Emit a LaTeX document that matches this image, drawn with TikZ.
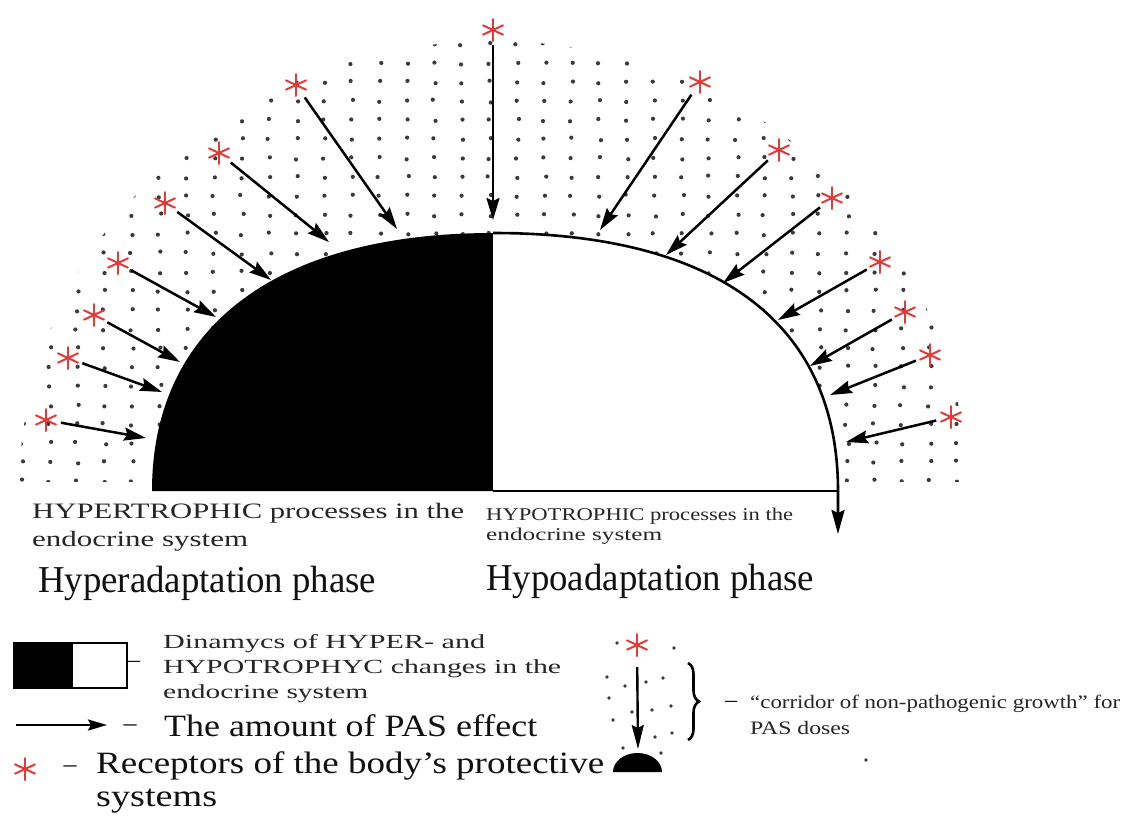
\documentclass[tikz,border=0pt]{standalone}
\usepackage{fontspec}
\setmainfont{Liberation Serif}
\usepackage{graphicx}
\usetikzlibrary{arrows.meta,decorations.pathreplacing}
\definecolor{astred}{HTML}{E23A36}
\definecolor{dotgray}{HTML}{3A3A3A}
\definecolor{txt}{HTML}{111111}
\definecolor{txtsmall}{HTML}{262626}
\newcommand\wtext[3]{{\fontsize{#1}{#1}\selectfont\resizebox{#2pt}{\height}{#3}}}
\tikzset{
  ast/.style={circle, minimum size=26pt, inner sep=0pt,
    path picture={\foreach \ang in {90,25,155}{\draw[astred, line width=2pt, line cap=round] (path picture bounding box.center) ++(\ang:11pt) -- ++(\ang+180:22pt);}}},
  pas/.style={line width=2.5pt, -{Stealth[length=22pt,width=13pt,inset=3pt]}, shorten <=2pt},
  lbl/.style={inner sep=0pt, anchor=base west, text=txt},
  dsh/.style={inner sep=0pt, text=txt},
  dot/.style={fill=dotgray},
}
\begin{document}
\begin{tikzpicture}[x=1pt,y=-1pt]
\useasboundingbox (0,0) rectangle (1124,817);
\fill[white] (0,0) rectangle (1124,817);

% dotted field
\begin{scope}
  \clip (493,491) ellipse [x radius=474, y radius=450];
  \clip (0,0) rectangle (1124,481);
  \pgfmathsetseed{12}
  \foreach \i in {0,...,35}{\foreach \j in {0,...,23}{
    \pgfmathsetmacro\dx{22+27.5*\i+2*rand}
    \pgfmathsetmacro\dy{44+19*\j+1.5*rand}
    \fill[dot] (\dx,\dy) circle[radius=2.1pt];
  }}
\end{scope}

% dome
\coordinate (dl) at (152,491);
\coordinate (dt) at (493,233);
\coordinate (db) at (493,491);
\coordinate (dr) at (838,491);
\coordinate (dend) at (838,534);
\fill[black] (dl) .. controls (152,328) and (275,233) .. (dt) -- (db) -- cycle;
\fill[white] (dt) .. controls (717,233) and (838,323) .. (dr) -- (db) -- cycle;
\draw[line width=2.5pt] (db) -- (dr);
\draw[line width=2.6pt, -{Stealth[length=24pt,width=13pt,inset=3pt]}] (dt) .. controls (717,233) and (838,323) .. (dr) -- (dend);

% receptors and PAS arrows
\foreach \ax/\ay/\ex/\ey [count=\n] in {
  493/30/493/220, 296/85/397/229, 219/153/329/242, 165/203/271/280,
  118/263/216/317, 94/315/180/362, 68/358/162/392, 46/420/146/438,
  700/82/600/230, 779/150/666/255, 832/198/723/283, 880/262/778/320,
  905/312/810/366, 930/355/830/395, 951/417/846/442}{
  \node[ast] (a\n) at (\ax,\ay) {};
  \coordinate (e\n) at (\ex,\ey);
  \draw[pas] (a\n) -- (e\n);
}

% phase labels
\node[lbl, text=txtsmall] (hyper1) at (32,518) {\wtext{22}{432}{HYPERTROPHIC processes in the}};
\node[lbl, text=txtsmall] (hyper2) at (32,546) {\wtext{22}{216}{endocrine system}};
\node[lbl] (hyperph) at (38,592) {\wtext{38}{338}{Hyperadaptation phase}};
\node[lbl, text=txtsmall] (hypo1) at (486,520) {\wtext{18}{307}{HYPOTROPHIC processes in the}};
\node[lbl, text=txtsmall] (hypo2) at (486,540) {\wtext{18}{176}{endocrine system}};
\node[lbl] (hypoph) at (486,590) {\wtext{38}{328}{Hypoadaptation phase}};

% legend: box
\fill[white] (14,643) rectangle (127,688);
\fill[black] (14,643) rectangle (73,688);
\draw[line width=2.5pt] (14,643) rectangle (127,688);
\node[dsh, font=\fontsize{24}{24}\selectfont] (d1) at (134,664) {–};
\node[lbl, text=txtsmall] (lg1a) at (163,648) {\wtext{20}{322}{Dinamycs of HYPER- and}};
\node[lbl, text=txtsmall] (lg1b) at (163,673) {\wtext{20}{398}{HYPOTROPHYC changes in the}};
\node[lbl, text=txtsmall] (lg1c) at (163,698) {\wtext{20}{205}{endocrine system}};

% legend: arrow
\coordinate (la1) at (16,725);
\coordinate (la2) at (107,725);
\draw[line width=2.4pt, -{Stealth[length=19pt,width=11pt,inset=3pt]}] (la1) -- (la2);
\node[dsh, font=\fontsize{26}{26}\selectfont] (d2) at (130,728) {–};
\node[lbl] (lg2) at (164,736) {\wtext{31}{373}{The amount of PAS effect}};

% legend: receptor
\node[ast] (lgast) at (25,769) {};
\node[dsh, font=\fontsize{26}{26}\selectfont] (d3) at (70,769) {–};
\node[lbl] (lg3a) at (96,773) {\wtext{31}{508}{Receptors of the body’s protective}};
\node[lbl] (lg3b) at (96,806) {\wtext{31}{121}{systems}};

% legend: corridor
\foreach \px/\py in {617/643,674/648,607/677,625/686,646/682,663/678,609/698,
  632/712,652/710,671/706,613/720,655/737,672/733,623/748,661/753,866/760}{
  \fill[dot] (\px,\py) circle[radius=1.9pt];
}
\node[ast] (cast) at (637,645) {};
\coordinate (ctip) at (638,749);
\draw[line width=2.4pt, -{Stealth[length=24pt,width=12pt,inset=3pt]}, shorten <=9pt] (cast) -- (ctip);
\fill[black] (613,772) arc[start angle=180, end angle=360, x radius=24.5, y radius=19] -- cycle;
\coordinate (bt) at (688,663);
\coordinate (bb) at (688,740);
\draw[decorate, decoration={brace, amplitude=11pt}, line width=2.6pt] (bt) -- (bb);
\node[dsh, font=\fontsize{24}{24}\selectfont] (d4) at (731,704) {–};
\node[lbl, text=txtsmall] (cor1) at (750,708) {\wtext{19}{370}{“corridor of non-pathogenic growth” for}};
\node[lbl, text=txtsmall] (cor2) at (750,734) {\wtext{19}{100}{PAS doses}};
\end{tikzpicture}
\end{document}
